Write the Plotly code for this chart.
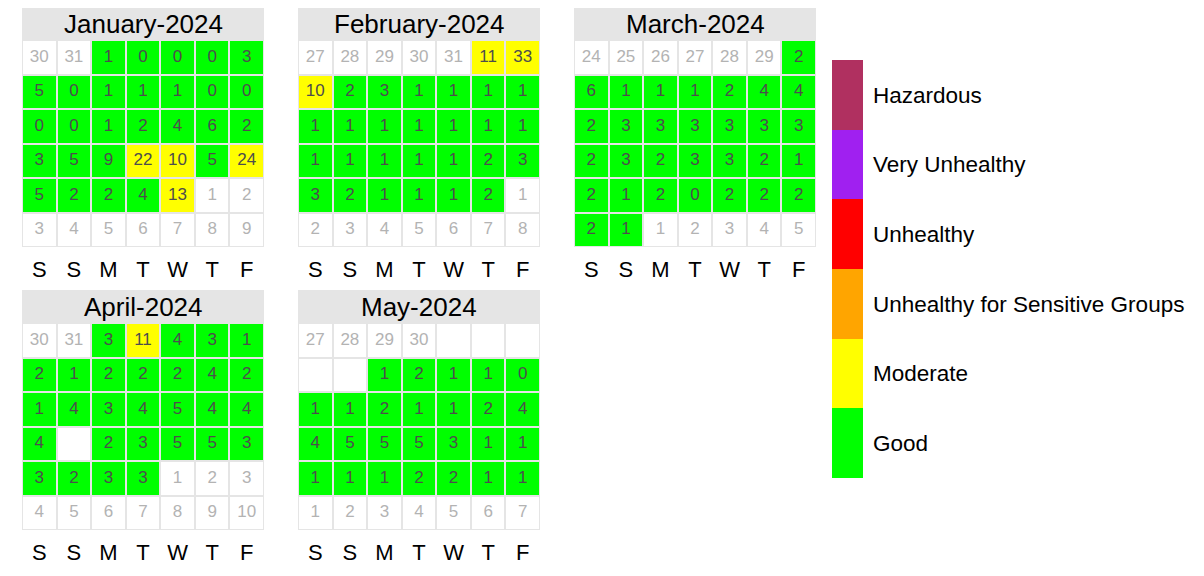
import datetime
import numpy as np
import plotly.graph_objects as go


#Months shown in the calendar
years = [2024, 2024, 2024, 2024, 2024]
months = [1, 2, 3, 4, 5]
month_names = ['January', 'February', 'March', 'April', 'May']

#Daily values per month (None = no data)
jan_values = [1, 0, 0, 0, 3, 5, 0, 1, 1, 1, 0, 0, 0, 0, 1, 2, 4, 6, 2, 3, 5, 9, 22, 10, 5, 24, 5, 2, 2, 4, 13]
feb_values = [11, 33, 10, 2, 3, 1, 1, 1, 1, 1, 1, 1, 1, 1, 1, 1, 1, 1, 1, 1, 1, 2, 3, 3, 2, 1, 1, 1, 2]
mar_values = [2, 6, 1, 1, 1, 2, 4, 4, 2, 3, 3, 3, 3, 3, 3, 2, 3, 2, 3, 3, 2, 1, 2, 1, 2, 0, 2, 2, 2, 2, 1]
apr_values = [3, 11, 4, 3, 1, 2, 1, 2, 2, 2, 4, 2, 1, 4, 3, 4, 5, 4, 4, 4, None, 2, 3, 5, 5, 3, 3, 2, 3, 3]
may_values = [None, None, None, None, None, 1, 2, 1, 1, 0, 1, 1, 2, 1, 1, 2, 4, 4, 5, 5, 5, 3, 1, 1, 1, 1, 1, 2, 2, 1, 1]
month_values = [jan_values, feb_values, mar_values, apr_values, may_values]

#Weekday labels, week starts on Saturday
weekday_labels = ['S', 'S', 'M', 'T', 'W', 'T', 'F']

#Air quality categories (upper break of each class)
category_labels = ['Good', 'Moderate', 'Unhealthy for Sensitive Groups', 'Unhealthy', 'Very Unhealthy', 'Hazardous']
category_breaks = [9.0, 35.4, 55.4, 125.4, 225.4, 100000]
category_colors = ['#00FF00', '#FFFF00', '#FFA500', '#FF0000', '#A020F0', '#B03060']


#The page body has an 8px margin, so the figure is drawn 8px smaller
#and all pixel positions below are page positions minus that margin
PAGE_MARGIN = 8
W, H = 1204 - PAGE_MARGIN, 576 - PAGE_MARGIN
FONT = 'Liberation Sans, Arial, sans-serif'
BORDER = '#E5E5E5'

#Pixel boxes of the calendar grids on the page (left, right, top, bottom)
panel_x = [(22, 264), (298, 540), (574, 816)]
panel_y = [(40, 247), (323, 530)]
header_px = 33


def px_x(p):
    return (p - PAGE_MARGIN) / W


def px_y(p):
    return 1 - (p - PAGE_MARGIN) / H


def category_index(value):
    for i, b in enumerate(category_breaks):
        if value <= b:
            return i + 1
    return len(category_breaks)


def month_grid(year, month, values):
    #Grid starts on the Saturday on/before the 1st
    first = datetime.date(year, month, 1)
    start = first - datetime.timedelta(days=(first.weekday() - 5) % 7)

    z = np.full((6, 7), np.nan)
    xs, ys, texts, colors = [], [], [], []
    for k in range(42):
        d = start + datetime.timedelta(days=k)
        row, col = k // 7, k % 7
        if d.month == month:
            v = values[d.day - 1]
            if v is None:
                continue
            z[row, col] = category_index(v)
            texts.append(str(v))
            colors.append('#4D4D4D')
        else:
            texts.append(str(d.day))
            colors.append('#B3B3B3')
        xs.append(col)
        ys.append(row)
    return z, xs, ys, texts, colors


fig = go.Figure()
layout_axes = {}
annotations = []
shapes = []

n = len(category_labels)
colorscale = []
for i, c in enumerate(category_colors):
    colorscale.append([i / n, c])
    colorscale.append([(i + 1) / n, c])

for m in range(len(months)):
    ax = '' if m == 0 else str(m + 1)
    xref, yref = 'x' + ax, 'y' + ax
    px = panel_x[m % 3]
    py = panel_y[m // 3]

    z, xs, ys, texts, colors = month_grid(years[m], months[m], month_values[m])

    #White base so empty days stay white
    fig.add_trace(go.Heatmap(
        z=np.zeros((6, 7)), x=list(range(7)), y=list(range(6)),
        colorscale=[[0, 'white'], [1, 'white']], showscale=False,
        xgap=2, ygap=2, hoverinfo='skip', xaxis=xref, yaxis=yref
    ))
    #Category colours
    fig.add_trace(go.Heatmap(
        z=z, x=list(range(7)), y=list(range(6)),
        coloraxis='coloraxis', xgap=2, ygap=2, hoverinfo='skip',
        xaxis=xref, yaxis=yref
    ))
    #Day values / day numbers
    fig.add_trace(go.Scatter(
        x=xs, y=ys, text=texts, mode='text',
        textfont=dict(family=FONT, size=17, color=colors),
        hoverinfo='skip', showlegend=False, xaxis=xref, yaxis=yref
    ))

    layout_axes['xaxis' + ax] = dict(
        domain=[px_x(px[0]), px_x(px[1])], range=[-0.5, 6.5],
        tickvals=list(range(7)), ticktext=weekday_labels,
        tickfont=dict(family=FONT, size=22, color='black'),
        ticks='', ticklabelstandoff=7,
        showgrid=False, zeroline=False, showline=False, fixedrange=True,
        anchor=yref
    )
    layout_axes['yaxis' + ax] = dict(
        domain=[px_y(py[1]), px_y(py[0])], range=[5.5, -0.5],
        visible=False, fixedrange=True, anchor=xref
    )

    #Month header strip
    hh = header_px / (py[1] - py[0])
    shapes.append(dict(
        type='rect', xref=xref + ' domain', yref=yref + ' domain',
        x0=0, x1=1, y0=1, y1=1 + hh,
        fillcolor=BORDER, line=dict(width=0), layer='below'
    ))
    annotations.append(dict(
        text=f'{month_names[m]}-{years[m]}', xref=xref + ' domain', yref=yref + ' domain',
        x=0.5, y=1 + hh / 2, xanchor='center', yanchor='middle', showarrow=False,
        font=dict(family=FONT, size=26, color='black')
    ))

#Right border line of the picture
shapes.append(dict(
    type='line', xref='paper', yref='paper', x0=px_x(1201), x1=px_x(1201), y0=0, y1=1,
    line=dict(color='black', width=2), layer='above'
))

fig.update_layout(
    width=W, height=H,
    margin=dict(l=0, r=0, t=0, b=0),
    paper_bgcolor='white',
    plot_bgcolor=BORDER,
    showlegend=False,
    shapes=shapes,
    annotations=annotations,
    coloraxis=dict(
        cmin=0.5, cmax=n + 0.5, colorscale=colorscale,
        colorbar=dict(
            tickvals=list(range(1, n + 1)), ticktext=category_labels,
            tickfont=dict(family=FONT, size=22.5, color='black'),
            ticks='outside', ticklen=6, tickcolor='rgba(0,0,0,0)',
            thickness=31, len=418, lenmode='pixels',
            x=px_x(832), xanchor='left', xpad=0,
            y=px_y(269), yanchor='middle', ypad=0,
            outlinewidth=0
        )
    ),
    **layout_axes
)

fig.write_html("out.html")
